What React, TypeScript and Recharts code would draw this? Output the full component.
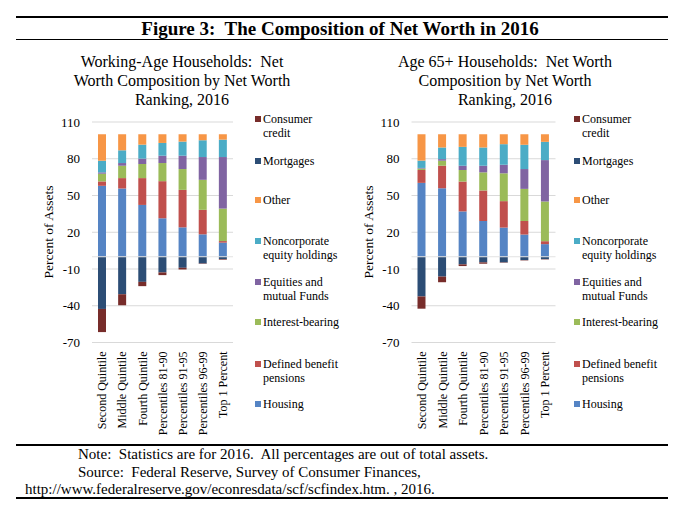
import { BarChart, Bar, XAxis, YAxis, CartesianGrid, ReferenceLine } from 'recharts'

const CATEGORIES = [
  'Second Quintile',
  'Middle Quintile',
  'Fourth Quintile',
  'Percentiles 81-90',
  'Percentiles 91-95',
  'Percentiles 96-99',
  'Top 1 Percent',
]

const Y_TICKS = [-70, -40, -10, 20, 50, 80, 110]

// Working-age households (percent of total assets)
const WORK_HOUSING = [57.9, 55.7, 42.3, 31.4, 24.0, 18.3, 11.5]
const WORK_PENSIONS = [3.6, 8.5, 21.9, 30.3, 30.6, 20.0, 1.3]
const WORK_INTEREST = [6.3, 10.1, 11.5, 14.8, 17.0, 24.5, 26.5]
const WORK_EQUITIES = [1.1, 2.2, 4.4, 6.0, 10.9, 18.6, 42.1]
const WORK_NONCORP = [9.5, 10.4, 11.4, 10.4, 11.5, 13.7, 14.2]
const WORK_OTHER = [21.6, 13.1, 8.5, 7.1, 6.0, 4.9, 4.4]
const WORK_MORTGAGES = [-42.6, -30.6, -20.5, -12.8, -9.0, -5.5, -1.9]
const WORK_CREDIT = [-18.9, -9.0, -3.5, -2.2, -1.4, -0.3, -0.5]

// Age 65+ households
const OLD_HOUSING = [60.3, 55.9, 37.0, 29.2, 23.8, 18.1, 10.3]
const OLD_PENSIONS = [10.5, 18.4, 24.4, 24.9, 21.6, 11.1, 2.4]
const OLD_INTEREST = [1.2, 4.1, 9.4, 14.8, 22.7, 26.2, 32.4]
const OLD_EQUITIES = [0.5, 1.3, 3.5, 5.4, 7.0, 16.2, 33.8]
const OLD_NONCORP = [6.0, 9.5, 15.4, 14.9, 16.8, 19.8, 14.9]
const OLD_OTHER = [21.5, 10.8, 10.3, 10.8, 8.1, 8.6, 6.2]
const OLD_MORTGAGES = [-32.4, -16.2, -6.2, -4.6, -4.6, -2.7, -1.9]
const OLD_CREDIT = [-10.0, -4.6, -1.4, -1.1, -0.3, -0.3, -0.3]

const SERIES = [
  { key: 'housing', label: 'Housing', color: '#5584c4' },
  { key: 'pensions', label: 'Defined benefit pensions', color: '#c0504d' },
  { key: 'interest', label: 'Interest-bearing', color: '#9bbb59' },
  { key: 'equities', label: 'Equities and mutual Funds', color: '#8064a2' },
  { key: 'noncorp', label: 'Noncorporate equity holdings', color: '#4bacc6' },
  { key: 'other', label: 'Other', color: '#f79646' },
  { key: 'mortgages', label: 'Mortgages', color: '#2c4d75' },
  { key: 'credit', label: 'Consumer credit', color: '#772c2a' },
]

const LEGEND_ITEMS = [
  { lines: ['Consumer', 'credit'], color: '#772c2a', y: 119 },
  { lines: ['Mortgages'], color: '#2c4d75', y: 161 },
  { lines: ['Other'], color: '#f79646', y: 200 },
  { lines: ['Noncorporate', 'equity holdings'], color: '#4bacc6', y: 241 },
  { lines: ['Equities and', 'mutual Funds'], color: '#8064a2', y: 282 },
  { lines: ['Interest-bearing'], color: '#9bbb59', y: 322 },
  { lines: ['Defined benefit', 'pensions'], color: '#c0504d', y: 364 },
  { lines: ['Housing'], color: '#5584c4', y: 404 },
]

function buildRows(cols: number[][]) {
  return CATEGORIES.map((name, i) => {
    const row: Record<string, any> = { name }
    SERIES.forEach((s, j) => {
      row[s.key] = cols[j][i]
    })
    return row
  })
}

const workingData = buildRows([
  WORK_HOUSING, WORK_PENSIONS, WORK_INTEREST, WORK_EQUITIES,
  WORK_NONCORP, WORK_OTHER, WORK_MORTGAGES, WORK_CREDIT,
])
const olderData = buildRows([
  OLD_HOUSING, OLD_PENSIONS, OLD_INTEREST, OLD_EQUITIES,
  OLD_NONCORP, OLD_OTHER, OLD_MORTGAGES, OLD_CREDIT,
])

const FONT = '"Liberation Serif", "Times New Roman", serif'

function CategoryTick({ x, y, payload }: any) {
  return (
    <text
      x={x}
      y={y + 1}
      transform={`rotate(-90, ${x}, ${y + 1})`}
      textAnchor="end"
      dy="0.35em"
      fontSize={12}
      fill="#000"
    >
      {payload.value}
    </text>
  )
}

function Panel({ data, axisWidth, rightMargin }: { data: any[]; axisWidth: number; rightMargin: number }) {
  return (
    <BarChart
      width={340}
      height={330}
      data={data}
      stackOffset="sign"
      margin={{ top: 12, right: rightMargin, bottom: 0, left: 0 }}
    >
      <CartesianGrid vertical={false} stroke="#d9d9d9" />
      <XAxis
        dataKey="name"
        height={97.5}
        axisLine={false}
        tickLine={false}
        interval={0}
        tick={<CategoryTick />}
      />
      <YAxis
        width={axisWidth}
        domain={[-70, 110]}
        ticks={Y_TICKS}
        axisLine={false}
        tickLine={false}
        tickMargin={6}
        tick={{ fontSize: 13, fill: '#000' }}
      />
      {SERIES.map((s) => (
        <Bar key={s.key} dataKey={s.key} stackId="a" fill={s.color} barSize={8} isAnimationActive={false} />
      ))}
      <ReferenceLine y={0} stroke="#e2e2e2" />
    </BarChart>
  )
}

function LegendBlock({ left }: { left: number }) {
  return (
    <>
      {LEGEND_ITEMS.map((item) => (
        <div key={item.lines[0]} style={{ position: 'absolute', left, top: item.y - 7, fontSize: 12, lineHeight: '14px' }}>
          <span style={{ position: 'absolute', left: 0, top: 4, width: 6, height: 6, background: item.color }} />
          {item.lines.map((ln) => (
            <div key={ln} style={{ marginLeft: 8, whiteSpace: 'nowrap' }}>{ln}</div>
          ))}
        </div>
      ))}
    </>
  )
}

const hline = (top: number, h: number) => (
  <div style={{ position: 'absolute', left: 16, width: 652, top, height: h, background: '#000' }} />
)

export default function App() {
  return (
    <div style={{ position: 'absolute', left: 0, top: 0, width: 680, height: 517, background: '#fff', fontFamily: FONT, color: '#000' }}>
      {hline(16, 1.5)}
      <div style={{ position: 'absolute', left: 0, width: 680, top: 18, textAlign: 'center', fontWeight: 'bold', fontSize: 19, lineHeight: '22px' }}>
        Figure 3:&nbsp; The Composition of Net Worth in 2016
      </div>
      {hline(39, 1)}

      <div style={{ position: 'absolute', left: 182 - 130, width: 260, top: 52, textAlign: 'center', fontSize: 16, lineHeight: '19px' }}>
        Working-Age Households:&nbsp; Net<br />Worth Composition by Net Worth<br />Ranking, 2016
      </div>
      <div style={{ position: 'absolute', left: 505 - 130, width: 260, top: 52, textAlign: 'center', fontSize: 16, lineHeight: '19px' }}>
        Age 65+ Households:&nbsp; Net Worth<br />Composition by Net Worth<br />Ranking, 2016
      </div>

      <div style={{ position: 'absolute', left: 0, top: 110 }}>
        <Panel data={workingData} axisWidth={92} rightMargin={107} />
      </div>
      <div style={{ position: 'absolute', left: 340, top: 110 }}>
        <Panel data={olderData} axisWidth={71.5} rightMargin={124.5} />
      </div>

      <div style={{ position: 'absolute', left: 49, top: 232, transform: 'translate(-50%, -50%) rotate(-90deg)', whiteSpace: 'nowrap', fontSize: 13.5 }}>
        Percent of Assets
      </div>
      <div style={{ position: 'absolute', left: 369, top: 232, transform: 'translate(-50%, -50%) rotate(-90deg)', whiteSpace: 'nowrap', fontSize: 13.5 }}>
        Percent of Assets
      </div>

      <LegendBlock left={255} />
      <LegendBlock left={574} />

      {hline(444, 1.5)}
      <div style={{ position: 'absolute', left: 78, top: 446, fontSize: 15, lineHeight: '17.5px', whiteSpace: 'pre' }}>
        {'Note:  Statistics are for 2016.  All percentages are out of total assets.'}
      </div>
      <div style={{ position: 'absolute', left: 78, top: 463.5, fontSize: 15, lineHeight: '17.5px', whiteSpace: 'pre' }}>
        {'Source:  Federal Reserve, Survey of Consumer Finances,'}
      </div>
      <div style={{ position: 'absolute', left: 25, top: 481, fontSize: 15, lineHeight: '17.5px', whiteSpace: 'pre' }}>
        {'http://www.federalreserve.gov/econresdata/scf/scfindex.htm. , 2016.'}
      </div>
      {hline(497, 1.5)}
    </div>
  )
}
